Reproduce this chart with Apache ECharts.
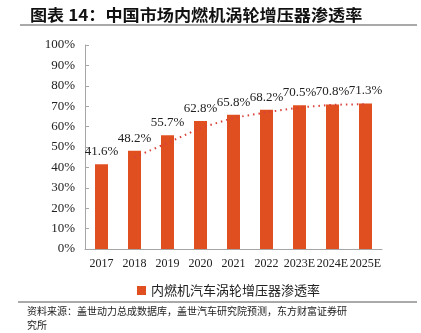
<!DOCTYPE html>
<html><head><meta charset="utf-8">
<script src="https://cdn.jsdelivr.net/npm/echarts@6/dist/echarts.min.js"></script>
<style>html,body{margin:0;padding:0;background:#fff}#c{width:421px;height:333px}</style>
</head><body><div id="c"></div>
<script>
var categories = ['2017','2018','2019','2020','2021','2022','2023E','2024E','2025E'];
var penetration = [41.6, 48.2, 55.7, 62.8, 65.8, 68.2, 70.5, 70.8, 71.3];
var trend = [null, 45.0, 52.0, 59.3, 64.3, 67.0, 69.4, 70.7, 71.0];
var yTicks = [0, 10, 20, 30, 40, 50, 60, 70, 80, 90, 100];
var seriesName = '内燃机汽车涡轮增压器渗透率';
var titleText = '图表 14：中国市场内燃机涡轮增压器渗透率';
var sourceLine1 = '资料来源：盖世动力总成数据库，盖世汽车研究院预测，东方财富证券研';
var sourceLine2 = '究所';

var chart = echarts.init(document.getElementById('c'));
var serif = '"Liberation Serif","Times New Roman",serif';
var cjk = '"Noto Sans CJK SC",sans-serif';
chart.setOption({
  animation: false,
  grid: {left: 85, right: 39, top: 45, bottom: 84},
  legend: {
    data: [seriesName], top: 279, left: 132, itemWidth: 9, itemHeight: 9, icon: 'rect',
    textStyle: {fontFamily: cjk, fontSize: 13, color: '#222'}
  },
  xAxis: {
    type: 'category', data: categories,
    axisLine: {lineStyle: {color: '#a6a6a6', width: 1}},
    axisTick: {inside: true, length: 4, lineStyle: {color: '#a6a6a6'}},
    axisLabel: {fontFamily: serif, fontSize: 12, color: '#222', margin: 9, interval: 0}
  },
  yAxis: {
    type: 'value', min: yTicks[0], max: yTicks[yTicks.length - 1], interval: 10,
    axisLine: {show: true, lineStyle: {color: '#a6a6a6', width: 1}},
    axisTick: {show: true, inside: true, length: 4, lineStyle: {color: '#a6a6a6'}},
    splitLine: {show: false},
    axisLabel: {fontFamily: serif, fontSize: 13, color: '#222', margin: 10, formatter: '{value}%'}
  },
  series: [
    {
      name: seriesName, type: 'bar', data: penetration, barWidth: 13,
      itemStyle: {color: '#E04F20'},
      label: {show: true, position: 'top', distance: 6, fontFamily: serif, fontSize: 13, color: '#222',
        formatter: function(p){ return p.value.toFixed(1) + '%'; }}
    },
    {
      name: 'trend', type: 'line', data: trend, symbol: 'none', smooth: false,
      lineStyle: {color: '#D9423A', width: 2, type: [1.5, 4]}, z: 3
    }
  ],
  graphic: [
    {type: 'text', x: 30, y: 7, scaleX: 1.07, style: {text: titleText, font: 'bold 16px ' + cjk, fill: '#111'}},
    {type: 'line', shape: {x1: 20, y1: 25, x2: 417, y2: 25}, style: {stroke: '#555', lineWidth: 1}},
    {type: 'line', shape: {x1: 18, y1: 302, x2: 417, y2: 302}, style: {stroke: '#555', lineWidth: 1}},
    {type: 'text', x: 27, y: 306, style: {text: sourceLine1, font: '10px ' + cjk, fill: '#222'}},
    {type: 'text', x: 27, y: 320, style: {text: sourceLine2, font: '10px ' + cjk, fill: '#222'}}
  ]
});
</script></body></html>
